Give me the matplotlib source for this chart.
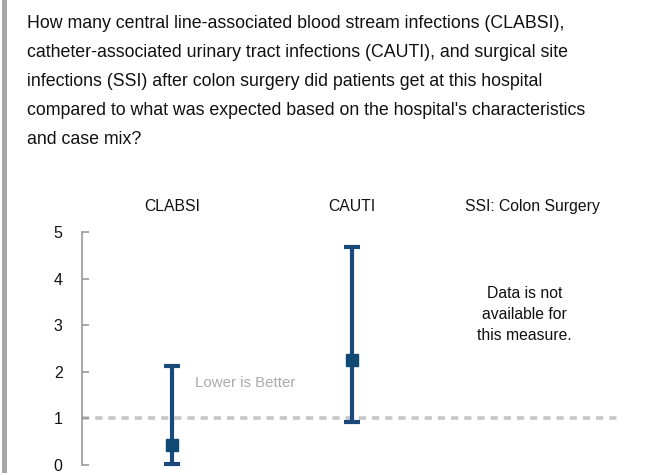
import matplotlib
matplotlib.use("Agg")
import matplotlib.pyplot as plt
import matplotlib.transforms as mtransforms
from matplotlib.patches import Rectangle

plt.rcParams['font.family'] = ['Liberation Sans', 'DejaVu Sans']

title = ("How many central line-associated blood stream infections (CLABSI),\n"
         "catheter-associated urinary tract infections (CAUTI), and surgical site\n"
         "infections (SSI) after colon surgery did patients get at this hospital\n"
         "compared to what was expected based on the hospital's characteristics\n"
         "and case mix?")

categories = ["CLABSI", "CAUTI", "SSI: Colon Surgery"]
values = [0.43, 2.25, None]
lower = [0.02, 0.92, None]
upper = [2.13, 4.67, None]
yticks = [0, 1, 2, 3, 4, 5]
benchmark = 1.0
note = "Data is not\navailable for\nthis measure."
better_label = "Lower is Better"

W, H = 645, 475
fig = plt.figure(figsize=(W / 100, H / 100), dpi=100)

# left gray bar
fig.patches.append(Rectangle((2 / W, 2 / H), 5 / W, 1 - 2 / H, transform=fig.transFigure,
                             facecolor='#a6a6a6', edgecolor='none'))

fig.text(27 / W, 1 - 15 / H, title, ha='left', va='top', fontsize=12.8,
         color='#111111', linespacing=1.93)

ax = fig.add_axes([82 / W, (H - 465) / H, 540 / W, 233 / H])
ax.set_xlim(-0.5, 2.5)
ax.set_ylim(0, 5)

ax.axhline(benchmark, color='#c6c6c6', lw=2.6, ls=(0, (2.0, 1.65)), zorder=1)

navy = '#1a4a7a'
for i, (v, lo, hi) in enumerate(zip(values, lower, upper)):
    if v is None:
        continue
    ax.errorbar([i], [v], yerr=[[v - lo], [hi - v]], fmt='s', color=navy,
                ecolor=navy, elinewidth=3, capsize=6, capthick=3,
                markersize=9, markerfacecolor='#0f4a75', markeredgecolor='#0f4a75',
                zorder=3, clip_on=False)

for s in ['top', 'right', 'bottom']:
    ax.spines[s].set_visible(False)
ax.spines['left'].set_color('#999999')
ax.spines['left'].set_linewidth(1.2)
ax.set_yticks(yticks)
ax.set_yticklabels([str(t) for t in yticks])
ax.tick_params(axis='y', direction='in', length=5, width=1.2, color='#999999',
               labelsize=11.5, labelcolor='#111111', pad=14)
ax.set_xticks([])

cat_tr = ax.get_xaxis_transform() + mtransforms.ScaledTranslation(0, 18 / 100, fig.dpi_scale_trans)
for i, c in enumerate(categories):
    ax.text(i, 1.0, c, transform=cat_tr, ha='center', va='bottom',
            fontsize=11.3, color='#111111')

ax.text(1.96, 3.22, note, ha='center', va='center', fontsize=11.3, color='#111111',
        linespacing=1.5)
ax.text(0.13, 1.75, better_label, ha='left', va='center', fontsize=10.8, color='#aaaaaa')

fig.savefig('out.png', dpi=100)
